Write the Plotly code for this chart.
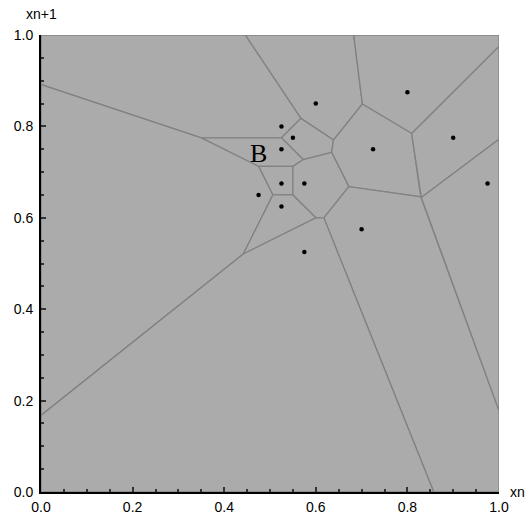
import numpy as np
import plotly.graph_objects as go

# Data points (xn, xn+1)
xn = [0.600, 0.800, 0.525, 0.550, 0.525, 0.725, 0.900, 0.525, 0.575, 0.475, 0.525, 0.700, 0.575, 0.975]
xn1 = [0.850, 0.875, 0.800, 0.775, 0.750, 0.750, 0.775, 0.675, 0.675, 0.650, 0.625, 0.575, 0.525, 0.675]

label_text = "B"
label_pos = (0.475, 0.740)

FILL = "#ABABAB"
EDGE = "#828282"


def clip(poly, a, b, c):
    # keep region a*x + b*y <= c
    out = []
    n = len(poly)
    for i in range(n):
        p = poly[i]
        q = poly[(i + 1) % n]
        fp = a * p[0] + b * p[1] - c
        fq = a * q[0] + b * q[1] - c
        if fp <= 0:
            out.append(p)
        if (fp < 0 < fq) or (fq < 0 < fp):
            t = fp / (fp - fq)
            out.append((p[0] + t * (q[0] - p[0]), p[1] + t * (q[1] - p[1])))
    return out


pts = np.array(list(zip(xn, xn1)))
cells = []
for i, p in enumerate(pts):
    poly = [(0.0, 0.0), (1.0, 0.0), (1.0, 1.0), (0.0, 1.0)]
    for j, q in enumerate(pts):
        if i == j:
            continue
        a, b = q - p
        c = (np.dot(q, q) - np.dot(p, p)) / 2.0
        poly = clip(poly, a, b, c)
        if not poly:
            break
    cells.append(poly)

fig = go.Figure()
for poly in cells:
    xs = [v[0] for v in poly] + [poly[0][0]]
    ys = [v[1] for v in poly] + [poly[0][1]]
    fig.add_trace(go.Scatter(x=xs, y=ys, mode="lines", fill="toself",
                             fillcolor=FILL, line=dict(color=EDGE, width=1.3),
                             hoverinfo="skip", showlegend=False))

fig.add_trace(go.Scatter(x=xn, y=xn1, mode="markers",
                         marker=dict(color="black", size=4.5),
                         showlegend=False))

fig.add_annotation(x=label_pos[0], y=label_pos[1], text=label_text, showarrow=False,
                   font=dict(family="Liberation Serif", size=26, color="black"),
                   xref="x", yref="y")

fig.add_annotation(x=1.0, y=0.0, xref="paper", yref="paper", text="xn",
                   showarrow=False, xanchor="left", yanchor="middle", xshift=9,
                   font=dict(family="Liberation Sans", size=14, color="black"))
fig.add_annotation(x=0.0, y=1.0, xref="paper", yref="paper", text="xn+1",
                   showarrow=False, xanchor="center", yanchor="bottom", yshift=11, xshift=0,
                   font=dict(family="Liberation Sans", size=14, color="black"))

axis_common = dict(range=[0, 1], showgrid=False, zeroline=False,
                   showline=True, linecolor="black", linewidth=2,
                   ticks="inside", ticklen=5, tickwidth=1.5, tickcolor="#333333",
                   tickvals=[0, 0.2, 0.4, 0.6, 0.8, 1.0], tickformat=".1f",
                   minor=dict(ticks="inside", ticklen=3, tickwidth=1.5, tickcolor="#333333",
                              dtick=0.05, tick0=0, showgrid=False),
                   tickfont=dict(family="Liberation Sans", size=14, color="black"),
                   fixedrange=True, automargin=False)

fig.update_layout(
    width=532, height=514,
    margin=dict(l=41, r=33, t=35, b=22),
    plot_bgcolor=FILL, paper_bgcolor="white",
    xaxis=dict(**axis_common, ticklabelstandoff=1),
    yaxis=dict(**axis_common, ticklabelstandoff=3),
    showlegend=False,
)

fig.write_html("out.html")
